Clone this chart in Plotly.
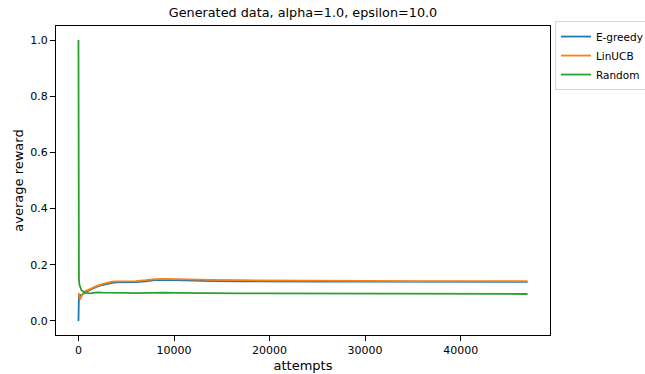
import plotly.graph_objects as go

# Running average reward per policy, sampled along the attempt axis
attempts = [0, 10, 50, 100, 200, 300, 500, 800, 1200, 1600, 2000, 2500, 3000, 3500,
            4000, 5000, 6000, 7000, 8000, 9000, 10000, 12000, 14000, 17000, 20000,
            25000, 30000, 35000, 40000, 45000, 47000]

egreedy = [0.0, 0.06, 0.09, 0.095, 0.09, 0.092, 0.097, 0.103, 0.110, 0.117, 0.123,
           0.128, 0.132, 0.136, 0.137, 0.137, 0.138, 0.141, 0.145, 0.146, 0.145,
           0.143, 0.142, 0.141, 0.140, 0.140, 0.140, 0.139, 0.139, 0.139, 0.139]

linucb = [0.10, 0.095, 0.09, 0.085, 0.08, 0.088, 0.100, 0.107, 0.114, 0.120, 0.126,
          0.131, 0.136, 0.140, 0.141, 0.141, 0.142, 0.145, 0.149, 0.150, 0.149,
          0.147, 0.146, 0.145, 0.144, 0.143, 0.143, 0.142, 0.142, 0.142, 0.142]

random_policy = [1.0, 0.25, 0.15, 0.13, 0.12, 0.11, 0.105, 0.100, 0.098, 0.100, 0.102,
                 0.101, 0.101, 0.102, 0.101, 0.100, 0.099, 0.100, 0.101, 0.101, 0.100,
                 0.099, 0.099, 0.098, 0.098, 0.098, 0.097, 0.097, 0.097, 0.097, 0.096]

series = [("E-greedy", egreedy, "#1f77b4"),
          ("LinUCB", linucb, "#ff7f0e"),
          ("Random", random_policy, "#2ca02c")]

x_ticks = [0, 10000, 20000, 30000, 40000]
y_ticks = [0.0, 0.2, 0.4, 0.6, 0.8, 1.0]

font_family = "DejaVu Sans"

fig = go.Figure()
for name, values, color in series:
    fig.add_trace(go.Scatter(x=attempts, y=values, mode="lines", name=name,
                             line=dict(color=color, width=1.8)))

x_max = max(attempts)
fig.update_layout(
    width=645, height=374,
    margin=dict(l=56, r=95, t=26, b=39, autoexpand=False),
    paper_bgcolor="white", plot_bgcolor="white",
    font=dict(family=font_family, size=11, color="#000"),
    title=dict(text="Generated data, alpha=1.0, epsilon=10.0",
               x=(56 + 550) / 2 / 645, xanchor="center",
               y=1 - 13 / 374, yanchor="middle",
               font=dict(size=12.8, color="#000")),
    showlegend=True,
    legend=dict(x=1.01, y=1.016, xanchor="left", yanchor="top",
                bordercolor="#d6d6d6", borderwidth=1, bgcolor="white",
                font=dict(size=10.5), tracegroupgap=0, itemwidth=30),
    xaxis=dict(range=[-0.05 * x_max, 1.05 * x_max], automargin=False,
               tickvals=x_ticks, ticktext=[str(v) for v in x_ticks],
               showgrid=False, zeroline=False,
               showline=True, linecolor="#000", linewidth=1, mirror=True,
               ticks="outside", ticklen=5, tickcolor="#000",
               title=dict(text="attempts", standoff=4)),
    yaxis=dict(range=[-0.05, 1.05], automargin=False,
               tickvals=y_ticks, ticktext=[f"{v:.1f}" for v in y_ticks],
               showgrid=False, zeroline=False,
               showline=True, linecolor="#000", linewidth=1, mirror=True,
               ticks="outside", ticklen=5, tickcolor="#000",
               title=dict(text="average reward", standoff=3)),
)

fig.write_html("out.html")
